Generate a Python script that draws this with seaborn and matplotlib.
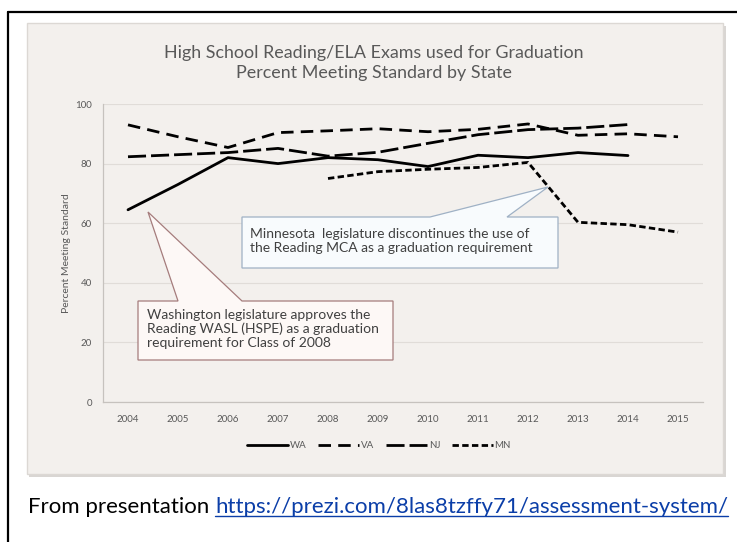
"""Reading/ELA graduation exams - percent meeting standard by state"""

import numpy as np
import pandas as pd
import matplotlib
matplotlib.use("Agg")
import matplotlib.pyplot as plt
from matplotlib.patches import Rectangle, Polygon
from matplotlib.lines import Line2D
import seaborn as sns

years = list(range(2004, 2016))
wa = [64.5, 73, 82, 80, 82, 81.3, 79, 82.8, 82, 83.7, 82.7, np.nan]
va = [93, 89, 85.4, 90.4, 91, 91.7, 90.7, 91.5, 93.3, 89.5, 90, 89]
nj = [82.3, 83, 83.7, 85.1, 82.5, 83.8, 86.8, 89.7, 91.4, 91.9, 93.1, np.nan]
mn = [np.nan, np.nan, np.nan, np.nan, 75, 77.3, 78.1, 78.7, 80.4, 60.3, 59.5, 57]
states = ["WA", "VA", "NJ", "MN"]

title = "High School Reading/ELA Exams used for Graduation\nPercent Meeting Standard by State"
ylabel = "Percent Meeting Standard"
wa_note = "Washington legislature approves the\nReading WASL (HSPE) as a graduation\nrequirement for Class of 2008"
mn_note = "Minnesota  legislature discontinues the use of\nthe Reading MCA as a graduation requirement"
caption = "From presentation "
url = "https://prezi.com/8las8tzffy71/assessment-system/"

df = pd.DataFrame({"year": years * 4,
                   "pct": wa + va + nj + mn,
                   "state": [s for s in states for _ in years]}).dropna()

sns.set_style("white")
plt.rcParams["font.family"] = ["Lato", "DejaVu Sans"]

W, H = 737, 542
fig = plt.figure(figsize=(W / 100, H / 100), dpi=100)
fig.patch.set_facecolor("white")


def fx(px):
    return px / W


def fy(py):
    return 1 - py / H


# outer frame (top and left)
fig.add_artist(Line2D([fx(8), 1], [fy(12), fy(12)], color="black", lw=1.6))
fig.add_artist(Line2D([fx(8), fx(8)], [fy(12), 0], color="black", lw=1.6))

# chart panel with soft shadow, kept below the axes
fig.add_artist(Rectangle((fx(29), fy(477)), fx(697), (474 - 23) / H,
                         facecolor="#d9d6d3", edgecolor="none", zorder=-10))
fig.add_artist(Rectangle((fx(27), fy(474)), fx(696), (474 - 23) / H,
                         facecolor="#f3f0ed", edgecolor="#dcd8d4", lw=1, zorder=-9))

fig.text(fx(374), fy(63), title, ha="center", va="center", fontsize=12.9,
         color="#595959", linespacing=1.35)

ax = fig.add_axes([fx(103), fy(402), 600 / W, 298 / H])
ax.patch.set_alpha(0)

sns.lineplot(data=df, x="year", y="pct", hue="state", style="state",
             hue_order=states, style_order=states,
             palette=["black"] * 4,
             dashes={"WA": "", "VA": (4.5, 2.6), "NJ": (6.5, 1.8), "MN": (2.3, 1.2)},
             lw=2, legend=False, ax=ax)

ax.set_xlim(2003.5, 2015.5)
ax.set_ylim(0, 100)
ax.set_xticks(years)
ax.set_xticklabels([str(y) for y in years])
ax.set_yticks([0, 20, 40, 60, 80, 100])
ax.tick_params(axis="both", length=0, labelsize=7, labelcolor="#595959", pad=9)
ax.tick_params(axis="y", pad=8)
ax.grid(axis="y", color="#e0dcd8", lw=0.8)
ax.set_axisbelow(True)
for s in ["top", "right"]:
    ax.spines[s].set_visible(False)
for s in ["left", "bottom"]:
    ax.spines[s].set_color("#c6c2be")
    ax.spines[s].set_linewidth(0.9)
ax.set_xlabel("")
ax.set_ylabel(ylabel, fontsize=7.5, color="#595959", labelpad=3)

handles = ax.get_lines()[:4]
fig.legend(handles, states, loc="center", bbox_to_anchor=(fx(379), fy(446)),
           ncol=4, frameon=False, fontsize=7, labelcolor="#595959",
           handlelength=4.2, handletextpad=0.2, columnspacing=1.2)


def callout(x0, x1, y0, y1, b0, b1, tip, face, edge):
    # box outline with a wedge pointer on its top edge (data coords)
    pts = [(x0, y0), (b0, y0), tip, (b1, y0), (x1, y0), (x1, y1), (x0, y1)]
    ax.add_patch(Polygon(pts, closed=True, facecolor=face, edgecolor=edge,
                         lw=0.9, zorder=5, clip_on=False))


def dx(px):
    return 2003.5 + (px - 103) / 50


def dy(py):
    return (402 - py) / 2.98


callout(dx(138), dx(393), dy(301), dy(360), dx(178), dx(242), (dx(148), dy(212)),
        "#fdf8f6", "#a57c7c")
ax.text(dx(147), dy(329), wa_note, ha="left", va="center", fontsize=10,
        color="#404040", linespacing=1.2, zorder=6)

callout(dx(242), dx(558), dy(217), dy(268), dx(430), dx(507), (dx(548), dy(187)),
        "#f8fbfd", "#9fb1c5")
ax.text(dx(250), dy(241), mn_note, ha="left", va="center", fontsize=10,
        color="#404040", linespacing=1.3, zorder=6)

# caption with underlined link
t1 = fig.text(fx(28), fy(513), caption, ha="left", va="baseline", fontsize=16,
              color="black")
fig.canvas.draw()
r = fig.canvas.get_renderer()
bb = t1.get_window_extent(r)
t2 = fig.text(bb.x1 / W, fy(513), url, ha="left", va="baseline", fontsize=16,
              color="#0b3ea8")
fig.canvas.draw()
bb2 = t2.get_window_extent(r)
fig.add_artist(Line2D([bb2.x0 / W, bb2.x1 / W], [fy(516), fy(516)],
                      color="#0b3ea8", lw=1))

plt.savefig("out.png", dpi=100)
plt.close()
